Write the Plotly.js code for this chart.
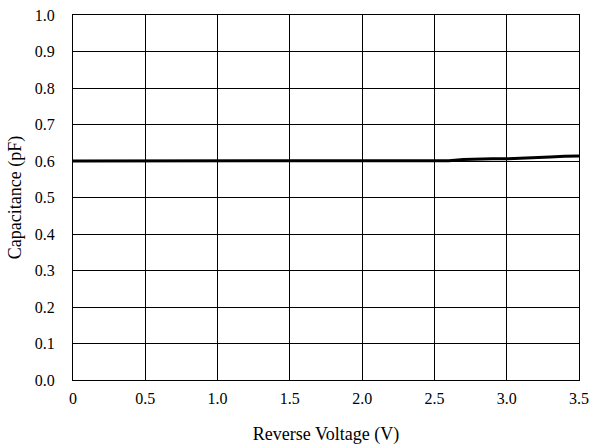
<!DOCTYPE html>
<html><head><meta charset="utf-8">
<script src="https://cdn.plot.ly/plotly-3.0.1.min.js"></script>
<style>html,body{margin:0;padding:0;background:#fff}#c{width:590px;height:448px}</style>
</head><body><div id="c"></div>
<script>
const voltage = [0,0.1,0.2,0.3,0.4,0.5,0.6,0.7,0.8,0.9,1.0,1.1,1.2,1.3,1.4,1.5,1.6,1.7,1.8,1.9,2.0,2.1,2.2,2.3,2.4,2.5,2.6,2.7,2.8,2.9,3.0,3.1,3.2,3.3,3.4,3.5];
const capacitance = [0.600,0.600,0.600,0.600,0.600,0.600,0.600,0.600,0.600,0.600,0.600,0.600,0.600,0.600,0.600,0.600,0.600,0.600,0.600,0.600,0.600,0.600,0.600,0.600,0.600,0.600,0.601,0.604,0.606,0.606,0.606,0.607,0.609,0.611,0.613,0.614];
const xTickVals = [0,0.5,1.0,1.5,2.0,2.5,3.0,3.5];
const xTickText = ["0","0.5","1.0","1.5","2.0","2.5","3.0","3.5"];
const yTickVals = [0,0.1,0.2,0.3,0.4,0.5,0.6,0.7,0.8,0.9,1.0];
const yTickText = ["0.0","0.1","0.2","0.3","0.4","0.5","0.6","0.7","0.8","0.9","1.0"];

const tickFont = {family: "Liberation Serif", size: 16, color: "#000"};
const titleFont = {family: "Liberation Serif", size: 18, color: "#000"};
Plotly.newPlot("c", [{
  x: voltage, y: capacitance, type: "scatter", mode: "lines",
  line: {color: "#000", width: 3}, hoverinfo: "skip"
}], {
  width: 590, height: 448,
  margin: {l: 73, r: 11, t: 15, b: 68},
  paper_bgcolor: "#fff", plot_bgcolor: "#fff",
  showlegend: false,
  font: tickFont,
  xaxis: {
    range: [0, 3.5], tickvals: xTickVals, ticktext: xTickText,
    showgrid: true, gridcolor: "#000", gridwidth: 1,
    showline: true, linecolor: "#000", linewidth: 1, mirror: true,
    zeroline: false, ticks: "", ticklabelstandoff: 4,
    tickfont: tickFont,
    title: {text: "Reverse Voltage (V)", font: titleFont, standoff: 21}
  },
  yaxis: {
    range: [0, 1.0], tickvals: yTickVals, ticktext: yTickText,
    showgrid: true, gridcolor: "#000", gridwidth: 1,
    showline: true, linecolor: "#000", linewidth: 1, mirror: true,
    zeroline: false, ticks: "", ticklabelstandoff: 14,
    tickfont: tickFont,
    title: {text: "Capacitance (pF)", font: titleFont, standoff: 8}
  }
}, {staticPlot: true});
</script></body></html>
